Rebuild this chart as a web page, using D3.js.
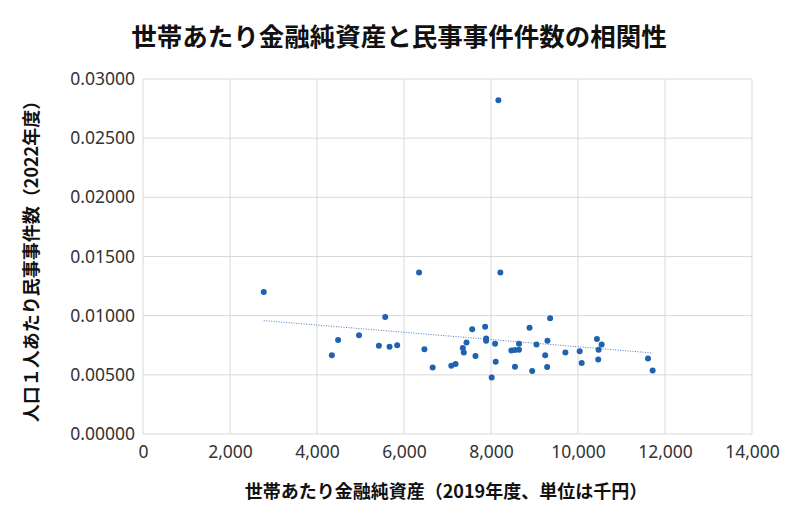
<!DOCTYPE html>
<html lang="ja">
<head>
<meta charset="UTF-8">
<script src="https://d3js.org/d3.v7.min.js"></script>
<style>body{margin:0;background:#fff;font-family:"Noto Sans CJK JP","Noto Sans",sans-serif;}</style>
</head>
<body>
<svg></svg>
<script>
var assets = [2776,4341,4485,4966,5423,5568,5668,5843,6346,6469,6659,7087,7185,7352,7375,7437,7567,7643,7865,7888,7888,8016,8094,8108,8215,8170,8467,8551,8551,8643,8643,8886,8947,9046,9245,9291,9298,9359,9710,10039,10085,10435,10465,10474,10543,11609,11716];
var cases = [0.0120,0.00666,0.00794,0.00834,0.00746,0.00989,0.00738,0.00751,0.01364,0.00717,0.00563,0.00577,0.00592,0.00726,0.00689,0.00774,0.00886,0.0066,0.00906,0.00806,0.00789,0.00477,0.00763,0.00611,0.01364,0.0282,0.00706,0.00569,0.00709,0.00712,0.00763,0.00897,0.00532,0.00757,0.00666,0.00566,0.00789,0.00978,0.00689,0.007,0.006,0.00803,0.00629,0.00712,0.00757,0.00637,0.00537];
var xTicks = [0,2000,4000,6000,8000,10000,12000,14000];
var yTicks = [0,0.005,0.01,0.015,0.02,0.025,0.03];

var width = 800, height = 527;
var svg = d3.select("svg").attr("width", width).attr("height", height);

var x = d3.scaleLinear().domain([0, 14000]).range([143, 752]);
var y = d3.scaleLinear().domain([0, 0.03]).range([434, 79]);

// gridlines
svg.append("g").selectAll("line").data(yTicks).enter().append("line")
    .attr("x1", 143).attr("x2", 752)
    .attr("y1", function (d) { return y(d); }).attr("y2", function (d) { return y(d); })
    .attr("stroke", "#d9d9d9");
svg.append("g").selectAll("line").data(xTicks).enter().append("line")
    .attr("y1", 79).attr("y2", 434)
    .attr("x1", function (d) { return x(d); }).attr("x2", function (d) { return x(d); })
    .attr("stroke", "#d9d9d9");

// tick labels
var xAxis = d3.axisBottom(x).tickValues(xTicks).tickSize(0).tickPadding(12).tickFormat(d3.format(","));
var gx = svg.append("g").attr("transform", "translate(0,434)").call(xAxis);
var yAxis = d3.axisLeft(y).tickValues(yTicks).tickSize(0).tickPadding(8).tickFormat(d3.format(".5f"));
var gy = svg.append("g").attr("transform", "translate(143,0)").call(yAxis);
[gx, gy].forEach(function (g) {
    g.select(".domain").remove();
    g.selectAll("text").attr("font-size", 17.5).attr("fill", "#333")
        .attr("font-family", "'Noto Sans','DejaVu Sans',sans-serif");
});

// trend line (least squares)
var mx = d3.mean(assets), my = d3.mean(cases);
var sxy = d3.sum(assets, function (d, i) { return (d - mx) * (cases[i] - my); });
var sxx = d3.sum(assets, function (d) { return (d - mx) * (d - mx); });
var slope = sxy / sxx, icpt = my - slope * mx;
var x0 = d3.min(assets), x1 = d3.max(assets);
svg.append("line")
    .attr("x1", x(x0)).attr("y1", y(icpt + slope * x0))
    .attr("x2", x(x1)).attr("y2", y(icpt + slope * x1))
    .attr("stroke", "#4a7fc0").attr("stroke-width", 1).attr("stroke-dasharray", "1,1.5");

// points
svg.append("g").selectAll("circle").data(assets).enter().append("circle")
    .attr("cx", function (d) { return x(d); })
    .attr("cy", function (d, i) { return y(cases[i]); })
    .attr("r", 3).attr("fill", "#1f63b0");

// titles
svg.append("text").attr("x", 399).attr("y", 46).attr("text-anchor", "middle")
    .attr("font-size", 25.5).attr("font-weight", "bold").attr("fill", "#111")
    .text("世帯あたり金融純資産と民事事件件数の相関性");
svg.append("text").attr("x", 446).attr("y", 498).attr("text-anchor", "middle")
    .attr("font-size", 18).attr("font-weight", "bold").attr("fill", "#111")
    .text("世帯あたり金融純資産（2019年度、単位は千円）");
svg.append("text").attr("transform", "translate(38,257) rotate(-90)").attr("text-anchor", "middle")
    .attr("font-size", 18).attr("font-weight", "bold").attr("fill", "#111")
    .text("人口１人あたり民事事件数（2022年度）");
</script>
</body>
</html>
